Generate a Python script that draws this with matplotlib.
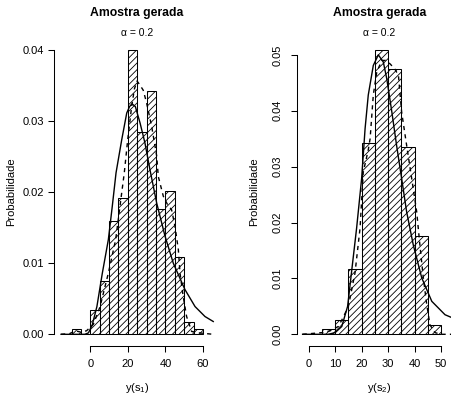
import numpy as np
import matplotlib
matplotlib.use("Agg")
import matplotlib.pyplot as plt

plt.rcParams['font.family'] = ['Liberation Sans', 'DejaVu Sans']
plt.rcParams['mathtext.fontset'] = 'custom'
plt.rcParams['mathtext.rm'] = 'Liberation Sans'
plt.rcParams['mathtext.it'] = 'Liberation Sans:italic'
plt.rcParams['hatch.linewidth'] = 0.6

# ---- panel 1 : y(s1) ----
bins1 = [-10, -5, 0, 5, 10, 15, 20, 25, 30, 35, 40, 45, 50, 55]
dens1 = [0.0008, 0.0, 0.0034, 0.0075, 0.0159, 0.0191, 0.0400, 0.0284,
         0.0342, 0.0176, 0.0201, 0.0108, 0.0017, 0.0008]

fit1_x = [-15.6, -3.0, -1.0, 1.0, 3.5, 6.4, 9.6, 11.7, 13.7, 16.7, 19.4, 20.9,
          22.2, 24.0, 26.5, 29.1, 31.8, 35.4, 39.8, 44.2, 50.4, 55.8, 61.1, 65.5]
fit1_y = [0.0, 0.0, 0.0002, 0.0013, 0.0039, 0.0086, 0.0133, 0.0180, 0.0227, 0.0273,
          0.0311, 0.0320, 0.0324, 0.0320, 0.0297, 0.0269, 0.0231, 0.0184, 0.0138,
          0.0100, 0.0063, 0.0039, 0.0025, 0.0018]

kde1_x = [-15.6, -11.0, -8.0, -5.0, -2.0, 1.6, 5.2, 9.6, 13.5, 15.8, 18.1, 19.9,
          22.0, 23.5, 24.9, 26.5, 28.2, 30.0, 32.7, 35.4, 36.2, 38.9, 41.0, 43.3,
          45.1, 46.9, 47.8, 49.5, 51.3, 54.0, 58.0, 65.5]
kde1_y = [0.0, 0.0001, 0.0005, 0.0003, 0.0005, 0.0014, 0.0039, 0.0086, 0.0133,
          0.0180, 0.0227, 0.0273, 0.0320, 0.0345, 0.0356, 0.0350, 0.0343, 0.0325,
          0.0292, 0.0250, 0.0222, 0.0194, 0.0183, 0.0175, 0.0152, 0.0119, 0.0086,
          0.0053, 0.0025, 0.0004, 0.0002, 0.0]

# ---- panel 2 : y(s2) ----
bins2 = [5, 10, 15, 20, 25, 30, 35, 40, 45]
dens2 = [0.0009, 0.0026, 0.0117, 0.0342, 0.0509, 0.0475, 0.0335, 0.0176, 0.0017]

fit2_x = [-2.3, 7.4, 10.0, 12.5, 14.7, 16.2, 18.1, 20.0, 21.3, 22.5, 24.4, 26.3,
          28.2, 29.5, 31.4, 33.2, 35.1, 37.0, 39.5, 42.7, 46.5, 51.5, 55.5]
fit2_y = [0.0, 0.0, 0.0003, 0.0014, 0.0050, 0.0112, 0.0190, 0.0279, 0.0368, 0.0428,
          0.0481, 0.0500, 0.0487, 0.0457, 0.0398, 0.0338, 0.0279, 0.0219, 0.0160,
          0.0101, 0.0059, 0.0035, 0.0027]

kde2_x = [-2.3, 5.0, 8.0, 11.2, 13.0, 15.0, 17.5, 19.4, 20.6, 22.5, 23.2, 24.4,
          25.7, 27.6, 29.0, 30.7, 32.5, 33.9, 35.1, 37.0, 38.9, 40.8, 42.0, 43.3,
          44.6, 45.8, 47.7, 50.0, 55.5]
kde2_y = [0.0, 0.0003, 0.0006, 0.0014, 0.0030, 0.0050, 0.0110, 0.0190, 0.0290,
          0.0330, 0.0350, 0.0428, 0.0469, 0.0490, 0.0490, 0.0484, 0.0475, 0.0463,
          0.0398, 0.0338, 0.0279, 0.0219, 0.0160, 0.0101, 0.0053, 0.0017, 0.0003,
          0.0, 0.0]

W, H = 452, 399
fig = plt.figure(figsize=(W / 100, H / 100), dpi=100)


def panel(rect, bins, dens, fx, fy, kx, ky, xlim, ylim, xt, yt, xlab, rot):
    ax = fig.add_axes(rect)
    ax.bar(bins, dens, width=5, align='edge', fill=False, hatch='/////',
           edgecolor='black', linewidth=0.75, zorder=1)
    ax.plot(fx, fy, color='black', lw=1.0, zorder=3)
    ax.plot(kx, ky, color='black', lw=1.0, dashes=(3, 3), zorder=3)
    ax.set_xlim(*xlim)
    ax.set_ylim(*ylim)
    for s in ('top', 'right'):
        ax.spines[s].set_visible(False)
    ax.spines['left'].set_bounds(yt[0], yt[-1])
    ax.spines['bottom'].set_bounds(xt[0], xt[-1])
    for s in ('left', 'bottom'):
        ax.spines[s].set_linewidth(0.75)
    ax.set_xticks(xt)
    ax.set_xticklabels([str(v) for v in xt])
    ax.set_yticks(yt)
    ax.set_yticklabels(['%.2f' % v for v in yt])
    ax.tick_params(axis='both', direction='out', length=4.3, width=0.75, labelsize=8)
    ax.tick_params(axis='x', pad=5)
    if rot:
        ax.tick_params(axis='y', pad=6)
        for t in ax.get_yticklabels():
            t.set_rotation(90)
            t.set_va('center')
    else:
        ax.tick_params(axis='y', pad=2.9)
    cx = rect[0] + rect[2] / 2
    fig.text(cx, 1 - 13.3 / H, 'Amostra gerada', ha='center', va='center',
             fontsize=8.8, fontweight='bold')
    fig.text(cx, 1 - 33.3 / H, '\u03b1 = 0.2', ha='center', va='center', fontsize=7.5)
    fig.text(cx, 1 - 388 / H, xlab, ha='center', va='center', fontsize=8)
    return ax


bot = 1 - 345.7 / H
hgt = (345.7 - 38.3) / H
panel([54.3 / W, bot, (220 - 54.3) / W, hgt], bins1, dens1, fit1_x, fit1_y,
      kde1_x, kde1_y, (-19.2, 69.1), (-0.0016, 0.0416), [0, 20, 40, 60],
      [0.0, 0.01, 0.02, 0.03, 0.04], r'$\mathregular{y(s_1)}$', False)
panel([297 / W, bot, (461.6 - 297) / W, hgt], bins2, dens2, fit2_x, fit2_y,
      kde2_x, kde2_y, (-4.42, 57.76), (-0.00204, 0.05296), [0, 10, 20, 30, 40, 50],
      [0.0, 0.01, 0.02, 0.03, 0.04, 0.05], r'$\mathregular{y(s_2)}$', True)

fig.text(11 / W, 1 - 192 / H, 'Probabilidade', rotation=90, ha='center', va='center', fontsize=8)
fig.text(254 / W, 1 - 192 / H, 'Probabilidade', rotation=90, ha='center', va='center', fontsize=8)

fig.savefig('out.png', dpi=100)
